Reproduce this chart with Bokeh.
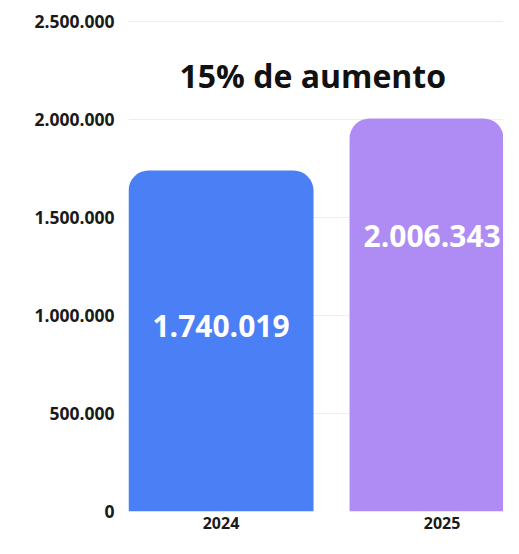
from bokeh.plotting import figure
from bokeh.models import ColumnDataSource, Range1d, FixedTicker
from bokeh.core.properties import value
from bokeh.embed import file_html
from bokeh.resources import INLINE

# ---- data ----
years = ["2024", "2025"]
totals = [1740019, 2006343]
total_labels = ["1.740.019", "2.006.343"]
bar_colors = ["#4A7FF5", "#AF8CF4"]
title_text = "15% de aumento"
y_ticks = [0, 500000, 1000000, 1500000, 2000000, 2500000]
y_tick_labels = ["0", "500.000", "1.000.000", "1.500.000", "2.000.000", "2.500.000"]

# ---- layout / style ----
FONT = "Open Sans"
label_frac = [0.545, 0.70]   # vertical placement of value labels inside bars
label_dx = [0.0, -0.045]     # small horizontal nudge so labels stay in view
xs = list(range(len(years)))

src = ColumnDataSource(dict(
    x=xs, top=totals, color=bar_colors, label=total_labels,
    lx=[x + d for x, d in zip(xs, label_dx)],
    ly=[t * f for t, f in zip(totals, label_frac)],
))

p = figure(width=503, height=538, output_backend="svg", toolbar_location=None,
           x_range=Range1d(-0.4186, 1.278), y_range=Range1d(0, 2506000),
           min_border_left=128, min_border_right=0, min_border_top=20,
           min_border_bottom=27)
p.outline_line_color = None
p.background_fill_color = "white"

p.vbar(x="x", top="top", width=0.837, bottom=0, color="color", source=src,
       line_color=None, border_radius=(20, 20, 0, 0))

p.text(x="lx", y="ly", text="label", source=src, text_color="white",
       text_align="center", text_baseline="middle",
       text_font=value(FONT), text_font_size="30px", text_font_style="bold")

p.text(x=[0.415], y=[2225000], text=[title_text], text_color="#111111",
       text_align="center", text_baseline="middle",
       text_font=value(FONT), text_font_size="32px", text_font_style="bold")

# axes
p.yaxis.ticker = FixedTicker(ticks=y_ticks)
p.yaxis.major_label_overrides = {t: l for t, l in zip(y_ticks, y_tick_labels)}
p.xaxis.ticker = FixedTicker(ticks=xs)
p.xaxis.major_label_overrides = {x: y for x, y in zip(xs, years)}
for ax in (p.xaxis, p.yaxis):
    ax.axis_line_color = None
    ax.major_tick_line_color = None
    ax.minor_tick_line_color = None
    ax.major_tick_out = 0
    ax.major_tick_in = 0
    ax.minor_tick_out = 0
    ax.minor_tick_in = 0
    ax.major_label_text_font = FONT
    ax.major_label_text_font_style = "bold"
    ax.major_label_text_color = "#1a1a1a"
p.yaxis.major_label_text_font_size = "17.5px"
p.xaxis.major_label_text_font_size = "16px"
p.yaxis.major_label_standoff = 14
p.xaxis.major_label_standoff = 5
p.xgrid.grid_line_color = None
p.ygrid.grid_line_color = "#EEEEEE"
p.ygrid.ticker = FixedTicker(ticks=y_ticks)
p.ygrid.level = "underlay"

open("out.html", "w").write(file_html(p, INLINE))
